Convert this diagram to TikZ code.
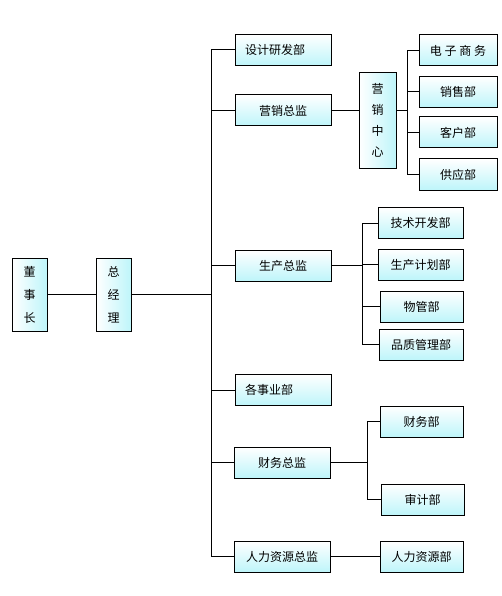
\documentclass[tikz,border=0pt]{standalone}
\usepackage{fontspec}
\newfontfamily\cjk{Noto Sans CJK SC}
\usetikzlibrary{positioning, calc}
\definecolor{boxcyan}{RGB}{190,245,250}
\tikzset{
  unit/.style={rectangle, draw, line width=1pt,
               minimum width=96pt, minimum height=31pt, inner sep=0pt,
               align=center, font=\cjk\fontsize{12}{14}\selectfont},
  hunit/.style={unit, top color=white, bottom color=boxcyan},
  sub/.style={hunit, minimum width=83pt},
  vunit/.style={unit, left color=white, right color=boxcyan,
                minimum width=35pt, minimum height=73pt,
                font=\cjk\fontsize{12}{23}\selectfont},
  lft/.style={text width=76pt, align=left},
  link/.style={line width=1pt},
}
\begin{document}
\begin{tikzpicture}[x=1pt, y=-1pt]
  \useasboundingbox (0,0) rectangle (502,596);
  % top of the chart
  \node[vunit] (dsz) at (29.5,294.5) {董\\事\\长};
  \node[vunit] (zjl) at (113.5,294.5) {总\\经\\理};
  % directors
  \node[hunit, lft] (sjyf) at (283,50) {设计研发部};
  \node[hunit] (yxzj) at (283,110.5) {营销总监};
  \node[hunit] (sczj) at (283,265.5) {生产总监};
  \node[hunit, lft] (gsyb) at (283,390) {各事业部};
  \node[hunit] (cwzj) at (282,462.5) {财务总监};
  \node[hunit] (rlzj) at (282,556.5) {人力资源总监};
  % marketing
  \node[vunit, minimum width=37pt, minimum height=95pt,
        font=\cjk\fontsize{12}{21}\selectfont] (yxzx) at (377.5,120.5) {营\\销\\中\\心};
  \node[sub, minimum width=78pt] (dzsw) at (458,50.5) {电 子 商 务};
  \node[sub, minimum width=78pt] (xsb) at (458,92) {销售部};
  \node[sub, minimum width=78pt] (khb) at (458,132.5) {客户部};
  \node[sub, minimum width=78pt] (gyb) at (458,174.5) {供应部};
  % production
  \node[sub, minimum width=85pt] (jskf) at (420.5,223) {技术开发部};
  \node[sub, minimum width=85pt] (scjh) at (420.5,264.5) {生产计划部};
  \node[sub] (wgb) at (421.5,306.5) {物管部};
  \node[sub, minimum width=84pt] (pzgl) at (421,344.5) {品质管理部};
  % finance and HR
  \node[sub] (cwb) at (421.5,421.5) {财务部};
  \node[sub] (sjb) at (422.5,499.5) {审计部};
  \node[sub] (rlb) at (421.5,556.5) {人力资源部};

  \coordinate (trunk) at (211,0);
  \coordinate (mbus) at (407,0);
  \coordinate (pbus) at (362,0);
  \coordinate (fbus) at (367,0);

  \draw[link] (dsz) -- (zjl);
  \draw[link] (zjl.east) -- (zjl.east -| trunk);
  \draw[link] (sjyf.west -| trunk) -- (rlzj.west -| trunk);
  \foreach \n in {sjyf,yxzj,sczj,gsyb,cwzj,rlzj}
    \draw[link] (\n.west) -- (\n.west -| trunk);

  \draw[link] (yxzj.east) -- (yxzj.east -| yxzx.west);
  \draw[link] (yxzj.east -| yxzx.east) -- (yxzj.east -| mbus);
  \draw[link] (dzsw.west -| mbus) -- (gyb.west -| mbus);
  \foreach \n in {dzsw,xsb,khb,gyb}
    \draw[link] (\n.west) -- (\n.west -| mbus);

  \draw[link] (sczj.east) -- (sczj.east -| pbus);
  \draw[link] (jskf.west -| pbus) -- (pzgl.west -| pbus);
  \foreach \n in {jskf,scjh,wgb,pzgl}
    \draw[link] (\n.west) -- (\n.west -| pbus);

  \draw[link] (cwzj.east) -- (cwzj.east -| fbus);
  \draw[link] (cwb.west -| fbus) -- (sjb.west -| fbus);
  \foreach \n in {cwb,sjb}
    \draw[link] (\n.west) -- (\n.west -| fbus);

  \draw[link] (rlzj) -- (rlb);
\end{tikzpicture}
\end{document}
